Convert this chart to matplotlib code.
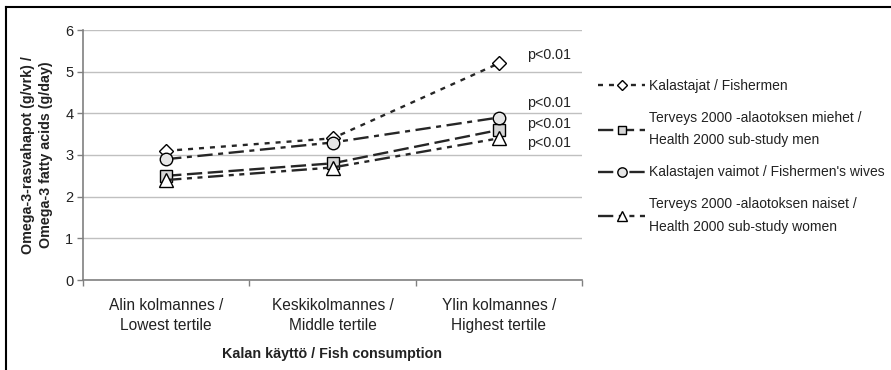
import matplotlib
matplotlib.use("Agg")
import matplotlib.pyplot as plt
from matplotlib.lines import Line2D

plt.rcParams['font.family'] = ['Liberation Sans', 'DejaVu Sans']
plt.rcParams['lines.scale_dashes'] = False

categories = ["Alin kolmannes /\nLowest tertile",
              "Keskikolmannes /\nMiddle tertile",
              "Ylin kolmannes /\nHighest tertile"]
series_names = ["Kalastajat / Fishermen",
                "Terveys 2000 -alaotoksen miehet /\nHealth 2000 sub-study men",
                "Kalastajen vaimot / Fishermen's wives",
                "Terveys 2000 -alaotoksen naiset /\nHealth 2000 sub-study women"]
fishermen = [3.1, 3.4, 5.2]
men_h2000 = [2.5, 2.8, 3.6]
wives = [2.9, 3.3, 3.9]
women_h2000 = [2.4, 2.7, 3.4]
p_labels = ["p<0.01", "p<0.01", "p<0.01", "p<0.01"]
p_label_y = [5.4, 4.25, 3.75, 3.28]
yticks = [0, 1, 2, 3, 4, 5, 6]

W, H = 891, 370
fig = plt.figure(figsize=(W / 100, H / 100), dpi=100)
ax = fig.add_axes([83 / W, 1 - 280 / H, (582 - 83) / W, (280 - 30) / H])

x = list(range(len(categories)))
lc = '#262626'
lw = 1.7
styles = [
    dict(marker='D', ms=7, mfc='white', ls=(0, (3.6, 4.3))),
    dict(marker='s', ms=8, mfc='#d6d6d6', ls=(0, (11, 4))),
    dict(marker='o', ms=9, mfc='#e6e6e6', ls=(0, (11, 4, 3.6, 4))),
    dict(marker='^', ms=9.5, mfc='white', ls=(0, (11, 4, 3.6, 4, 3.6, 4))),
]
data = [fishermen, men_h2000, wives, women_h2000]
handles = []
for vals, st, name in zip(data, styles, series_names):
    h, = ax.plot(x, vals, color=lc, lw=lw, linestyle=st['ls'], marker=st['marker'],
                 ms=st['ms'], mfc=st['mfc'], mec='black', mew=1.0, label=name,
                 zorder=3)
    handles.append(h)

ax.set_xlim(-0.5, 2.5)
ax.set_ylim(0, 6)
ax.set_yticks(yticks)
ax.set_xticks(x)
ax.set_xticklabels(categories, fontsize=11.2, color='#222222', linespacing=1.4)
ax.set_xticks([-0.5, 0.5, 1.5, 2.5], minor=True)
ax.tick_params(axis='x', which='major', length=0, pad=13)
ax.tick_params(axis='x', which='minor', length=4, width=1, color='#808080', direction='out')
ax.tick_params(axis='y', length=4, width=1, color='#808080', labelsize=10.5, labelcolor='#222222', pad=3)
ax.grid(axis='y', color='#c0c0c0', lw=1)
ax.set_axisbelow(True)
for s in ['top', 'right']:
    ax.spines[s].set_visible(False)
for s in ['left', 'bottom']:
    ax.spines[s].set_color('#808080')
    ax.spines[s].set_linewidth(1.2)

ax.set_xlabel("Kalan käyttö / Fish consumption", fontsize=10.3, fontweight='bold',
              color='#222222', labelpad=10)
ax.set_ylabel("Omega-3-rasvahapot (g/vrk) /\nOmega-3 fatty acids (g/day)", fontsize=10.3,
              fontweight='bold', color='#222222', labelpad=9, linespacing=1.35)

for lab, yy in zip(p_labels, p_label_y):
    ax.text(2.17, yy, lab, fontsize=10.3, color='#222222', va='center', ha='left')

leg = fig.legend(handles=handles, loc='upper left', bbox_to_anchor=(598 / W, 1 - 79 / H),
                 frameon=False, fontsize=10, handlelength=3.4, handletextpad=0.3,
                 labelspacing=1.3, borderaxespad=0, borderpad=0, markerscale=0.75)
for t in leg.get_texts():
    t.set_color('#222222')
    t.set_linespacing(1.75)

# outer frame (top and left edges)
fig.add_artist(Line2D([6 / W, 1], [1 - 7 / H, 1 - 7 / H], transform=fig.transFigure,
                      color='black', lw=1.5))
fig.add_artist(Line2D([6 / W, 6 / W], [0, 1 - 7 / H], transform=fig.transFigure,
                      color='black', lw=1.5))

fig.savefig("out.png", dpi=100)
